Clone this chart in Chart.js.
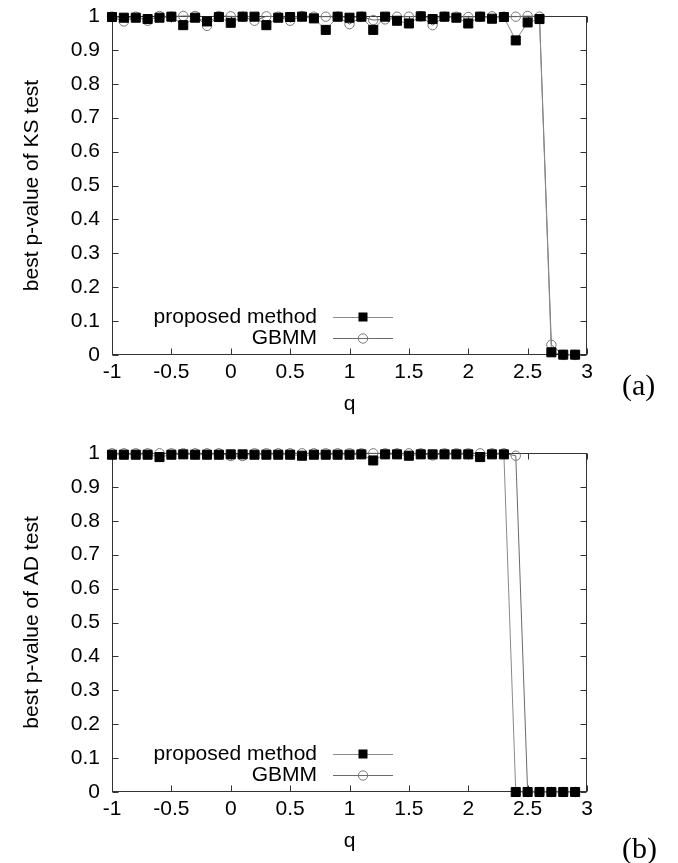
<!DOCTYPE html>
<html><head><meta charset="utf-8">
<script src="https://cdn.jsdelivr.net/npm/chart.js@4/dist/chart.umd.min.js"></script>
<style>
html,body{margin:0;padding:0;background:#fff;}
body{width:678px;height:863px;position:relative;overflow:hidden;}
.wrap{position:absolute;left:0;width:678px;height:417px;}
.lab{position:absolute;font-family:'Liberation Serif',serif;font-size:30px;color:#000;line-height:34px;}
</style></head><body>
<div class="wrap" style="top:0"><canvas id="c1" width="678" height="417"></canvas></div>
<div class="wrap" style="top:437px"><canvas id="c2" width="678" height="417"></canvas></div>
<div class="lab" style="left:622px;top:368px">(a)</div>
<div class="lab" style="left:622px;top:831px">(b)</div>
<script>
const qValues = [-1.0,-0.9,-0.8,-0.7,-0.6,-0.5,-0.4,-0.3,-0.2,-0.1,0.0,0.1,0.2,0.3,0.4,0.5,0.6,0.7,0.8,0.9,1.0,1.1,1.2,1.3,1.4,1.5,1.6,1.7,1.8,1.9,2.0,2.1,2.2,2.3,2.4,2.5,2.6,2.7,2.8,2.9];

const ksProposed = [0.997,0.995,0.995,0.991,0.995,0.998,0.973,0.995,0.984,0.997,0.980,0.998,0.998,0.973,0.995,0.997,0.998,0.993,0.959,0.998,0.995,0.998,0.959,0.998,0.986,0.978,0.999,0.991,0.998,0.995,0.978,0.998,0.992,0.997,0.928,0.981,0.991,0.008,0.001,0.001];
const ksGBMM = [0.998,0.984,0.998,0.986,1.0,0.998,1.0,1.0,0.971,1.0,0.999,0.998,0.986,0.999,0.998,0.986,1.0,0.998,0.998,0.998,0.976,0.998,0.988,0.990,0.998,0.998,0.999,0.973,0.998,0.998,0.997,0.998,0.999,0.998,0.998,1.0,0.998,0.030,0.0,0.0];

const adProposed = [0.995,0.995,0.995,0.995,0.988,0.995,0.996,0.995,0.995,0.995,0.996,0.996,0.995,0.995,0.995,0.995,0.992,0.995,0.995,0.995,0.995,0.996,0.978,0.996,0.996,0.992,0.996,0.996,0.996,0.996,0.996,0.988,0.996,0.996,0.0,0.0,0.0,0.0,0.0,0.0];
const adGBMM = [0.999,0.999,0.999,0.999,0.999,0.999,0.999,0.999,0.999,0.999,0.991,0.991,0.999,0.999,0.999,0.999,0.999,0.999,0.999,0.999,0.999,0.999,0.999,0.999,0.999,0.999,0.999,0.993,0.999,0.999,0.999,0.999,0.999,0.999,0.992,0.0,0.0,0.0,0.0,0.0];

const seriesNames = ['proposed method','GBMM'];
const xTickValues = [-1,-0.5,0,0.5,1,1.5,2,2.5,3];
const xTickLabels = ['-1','-0.5','0','0.5','1','1.5','2','2.5','3'];
const yTickValues = [0,0.1,0.2,0.3,0.4,0.5,0.6,0.7,0.8,0.9,1];
const yTickLabels = ['0','0.1','0.2','0.3','0.4','0.5','0.6','0.7','0.8','0.9','1'];
const yTitles = ['best p-value of KS test','best p-value of AD test'];

const FONT = 'Liberation Sans';
const fontSpec = {family: FONT, size: 21, lineHeight: 1.2};

const framePlugin = {
  id: 'frame',
  beforeDatasetsDraw(chart) {
    const {ctx, chartArea: a, scales: {x, y}} = chart;
    ctx.save();
    ctx.strokeStyle = '#333';
    ctx.lineWidth = 1;
    const L = Math.round(a.left) + 0.5, R = Math.round(a.right) - 0.5;
    const T = Math.round(a.top) + 0.5, B = Math.round(a.bottom) - 0.5;
    ctx.strokeRect(L, T, R - L, B - T);
    ctx.beginPath();
    x.ticks.forEach(t => {
      const px = Math.round(x.getPixelForValue(t.value)) + 0.5;
      ctx.moveTo(px, B); ctx.lineTo(px, B - 6);
      ctx.moveTo(px, T); ctx.lineTo(px, T + 6);
    });
    y.ticks.forEach(t => {
      const py = Math.round(y.getPixelForValue(t.value)) + 0.5;
      ctx.moveTo(L, py); ctx.lineTo(L + 6, py);
      ctx.moveTo(R, py); ctx.lineTo(R - 6, py);
    });
    ctx.stroke();
    ctx.restore();
  }
};

const legendPlugin = {
  id: 'inlegend',
  afterDatasetsDraw(chart) {
    const {ctx, chartArea: a} = chart;
    const ds = chart.data.datasets;
    const rows = [a.bottom - 38, a.bottom - 17];
    ctx.save();
    ctx.font = '21px "' + FONT + '"';
    ctx.textAlign = 'right';
    ctx.textBaseline = 'middle';
    rows.forEach((ry, i) => {
      const d = ds[i];
      ctx.fillStyle = '#000';
      ctx.fillText(d.label, 317, ry);
      ctx.strokeStyle = d.borderColor;
      ctx.lineWidth = 1;
      ctx.beginPath(); ctx.moveTo(333, ry + 0.5); ctx.lineTo(393, ry + 0.5); ctx.stroke();
      if (d.pointStyle === 'rect') {
        ctx.fillStyle = d.pointBackgroundColor;
        ctx.fillRect(358.5, ry - 4.5, 9, 9);
      } else {
        ctx.strokeStyle = d.pointBorderColor;
        ctx.beginPath(); ctx.arc(363, ry + 0.5, d.pointRadius, 0, Math.PI * 2); ctx.stroke();
      }
    });
    ctx.restore();
  }
};

function makeChart(id, yTitle, propVals, gbmmVals) {
  const toPts = vals => qValues.map((q, i) => ({x: q, y: vals[i]}));
  return new Chart(document.getElementById(id), {
    type: 'scatter',
    data: {
      datasets: [
        {
          label: seriesNames[0], data: toPts(propVals), showLine: true,
          borderColor: '#8a8a8a', borderWidth: 1, tension: 0,
          pointStyle: 'rect', pointRadius: 6.4, pointBorderWidth: 1,
          pointBackgroundColor: '#000', pointBorderColor: '#000', clip: false
        },
        {
          label: seriesNames[1], data: toPts(gbmmVals), showLine: true,
          borderColor: '#6a6a6a', borderWidth: 1, tension: 0,
          pointStyle: 'circle', pointRadius: 4.7, pointBorderWidth: 1,
          pointBackgroundColor: 'rgba(0,0,0,0)', pointBorderColor: '#777', clip: false
        }
      ]
    },
    options: {
      responsive: false, animation: false, devicePixelRatio: 1,
      layout: {padding: {left: 0, right: 91, top: 16, bottom: 0}},
      plugins: {legend: {display: false}, tooltip: {enabled: false}},
      scales: {
        x: {
          type: 'linear', min: -1, max: 3,
          afterBuildTicks: s => { s.ticks = xTickValues.map(v => ({value: v})); },
          afterFit: s => { s.height = 62; s.paddingLeft = 0; s.paddingRight = 0; },
          ticks: {callback: (v, i) => xTickLabels[i], font: fontSpec, color: '#000', padding: 5, autoSkip: false, maxRotation: 0},
          grid: {display: false, drawTicks: false},
          border: {display: false},
          title: {display: true, text: 'q', font: fontSpec, color: '#000', padding: 0}
        },
        y: {
          min: 0, max: 1,
          afterBuildTicks: s => { s.ticks = yTickValues.map(v => ({value: v})); },
          afterFit: s => { s.width = 112; s.paddingTop = 0; s.paddingBottom = 0; },
          ticks: {callback: (v, i) => yTickLabels[i], font: fontSpec, color: '#000', padding: 12},
          grid: {display: false, drawTicks: false},
          border: {display: false},
          title: {display: true, text: yTitle, font: {family: FONT, size: 21, lineHeight: 1.2}, color: '#000', padding: {top: 20, bottom: 0}}
        }
      }
    },
    plugins: [framePlugin, legendPlugin]
  });
}

makeChart('c1', yTitles[0], ksProposed, ksGBMM);
makeChart('c2', yTitles[1], adProposed, adGBMM);
</script>
</body></html>
